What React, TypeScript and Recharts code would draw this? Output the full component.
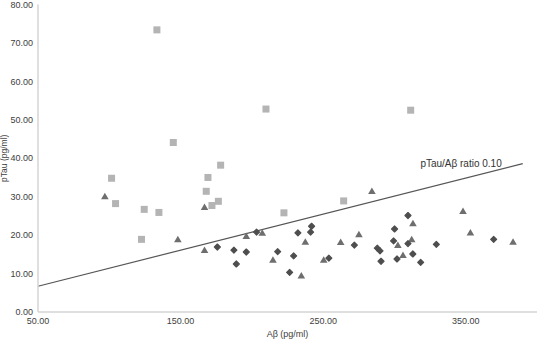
import { ScatterChart, Scatter, XAxis, YAxis, ReferenceLine, ReferenceDot } from 'recharts';

// Aβ (pg/ml) vs pTau (pg/ml), three groups
const squareAb = [133.4, 144.9, 101.6, 104.4, 124.5, 134.8, 122.6, 169.2, 168, 172, 176.5, 178.1, 209.9, 222.5, 264.4, 311.4];
const squarePtau = [73.4, 44.1, 34.8, 28.2, 26.7, 25.9, 18.9, 35.0, 31.4, 27.7, 28.8, 38.2, 52.8, 25.8, 28.9, 52.5];

const triangleAb = [96.9, 148.1, 166.8, 166.8, 196.1, 207.3, 214.8, 234.7, 237.5, 250.4, 262.3, 275.1, 284.2, 302.4, 306, 312.1, 313, 348.1, 353.3, 383.2];
const trianglePtau = [30.1, 18.9, 27.3, 16.1, 19.8, 20.6, 13.6, 9.5, 18.3, 13.6, 18.2, 20.2, 31.5, 17.4, 14.8, 18.9, 23.1, 26.3, 20.7, 18.3];

const diamondAb = [175.8, 187.4, 189.1, 196.1, 203.3, 218.1, 226.5, 229.3, 232.3, 241.2, 241.9, 254, 271.9, 288, 289.9, 290.6, 300.1, 299.4, 309.5, 309.5, 301.8, 312.9, 318.4, 329.4, 369.6];
const diamondPtau = [16.9, 16.1, 12.5, 15.6, 20.8, 15.7, 10.3, 14.6, 20.6, 20.8, 22.3, 14.0, 17.4, 16.6, 15.9, 13.2, 21.6, 18.5, 25.1, 17.8, 13.8, 15.1, 12.9, 17.6, 18.9];

const ratioAb = [50, 390];
const ratioPtau = [6.7, 38.6];
const ratioLabel = 'pTau/Aβ ratio 0.10';

const xTicks = [50, 150, 250, 350];
const yTicks = [0, 10, 20, 30, 40, 50, 60, 70, 80];

const toPoints = (xs: number[], ys: number[]) => xs.map((x, i) => ({ x, y: ys[i] }));

const squares = toPoints(squareAb, squarePtau);
const triangles = toPoints(triangleAb, trianglePtau);
const diamonds = toPoints(diamondAb, diamondPtau);

const font = '"Liberation Sans", Arial, sans-serif';
const textColor = '#404040';

const SquareShape = ({ cx, cy }: any) => <rect x={cx - 3.5} y={cy - 3.5} width={7} height={7} fill="#b4b4b4" />;
const TriangleShape = ({ cx, cy }: any) => (
  <polygon points={`${cx},${cy - 3.5} ${cx + 3.8},${cy + 3} ${cx - 3.8},${cy + 3}`} fill="#6e6e6e" />
);
const DiamondShape = ({ cx, cy }: any) => (
  <polygon
    points={`${cx},${cy - 3} ${cx + 3},${cy} ${cx},${cy + 3} ${cx - 3},${cy}`}
    fill="#4e4e4e"
    stroke="#4e4e4e"
    strokeWidth={1.2}
    strokeLinejoin="round"
  />
);

export default function App() {
  return (
    <div style={{ width: 544, height: 341 }}>
      <style>{'body{margin:0}'}</style>
      <ScatterChart width={544} height={341} margin={{ top: 4.5, right: 7, bottom: 0, left: 0 }}>
        <XAxis
          type="number"
          dataKey="x"
          domain={[50, 400]}
          ticks={xTicks}
          tickFormatter={(v: number) => v.toFixed(2)}
          tick={{ fill: textColor, fontSize: 9, fontFamily: font }}
          tickLine={false}
          tickMargin={0}
          axisLine={{ stroke: '#d4d4d4', strokeWidth: 1.5 }}
          height={29}
          allowDataOverflow
          label={{ value: 'Aβ (pg/ml)', position: 'insideBottom', offset: 4, fill: textColor, fontSize: 9, fontFamily: font }}
        />
        <YAxis
          type="number"
          dataKey="y"
          domain={[0, 80]}
          ticks={yTicks}
          tickFormatter={(v: number) => v.toFixed(2)}
          tick={{ fill: textColor, fontSize: 9, fontFamily: font }}
          tickLine={false}
          tickSize={5}
          tickMargin={0}
          axisLine={{ stroke: '#d4d4d4', strokeWidth: 1.5 }}
          width={38}
          label={{
            value: 'pTau (pg/ml)',
            angle: -90,
            position: 'insideLeft',
            offset: 3.5,
            fill: textColor,
            fontSize: 8.5,
            fontFamily: font,
            style: { textAnchor: 'middle' },
          }}
        />
        <ReferenceLine
          segment={[
            { x: ratioAb[0], y: ratioPtau[0] },
            { x: ratioAb[1], y: ratioPtau[1] },
          ]}
          stroke="#555555"
          strokeWidth={1.2}
          ifOverflow="visible"
        />
        <ReferenceDot
          x={ratioAb[1]}
          y={ratioPtau[1]}
          r={0}
          fill="none"
          stroke="none"
          label={{ value: ratioLabel, position: 'left', offset: 21, fill: '#333333', fontSize: 10, fontFamily: font }}
        />
        <Scatter data={squares} shape={SquareShape} isAnimationActive={false} />
        <Scatter data={triangles} shape={TriangleShape} isAnimationActive={false} />
        <Scatter data={diamonds} shape={DiamondShape} isAnimationActive={false} />
      </ScatterChart>
    </div>
  );
}
